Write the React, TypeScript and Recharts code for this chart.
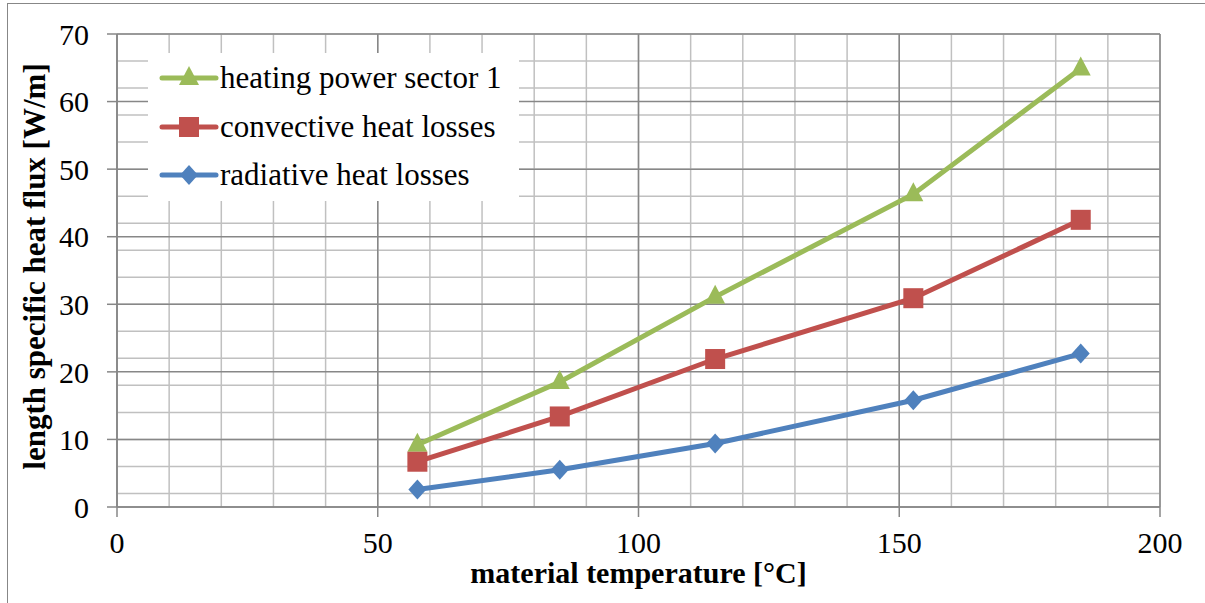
import { LineChart, Line, XAxis, YAxis, CartesianGrid, Legend, Label } from 'recharts';

const temperature = [57.6, 84.9, 114.7, 152.7, 184.8];
const heatingPower = [9.2, 18.5, 31.1, 46.3, 64.9];
const convectiveLosses = [6.7, 13.4, 21.9, 30.9, 42.5];
const radiativeLosses = [2.6, 5.5, 9.4, 15.8, 22.7];

const xTicks = [0, 50, 100, 150, 200];
const yTicks = [0, 10, 20, 30, 40, 50, 60, 70];
const xMinor = [0, 10, 20, 30, 40, 50, 60, 70, 80, 90, 100, 110, 120, 130, 140, 150, 160, 170, 180, 190, 200];
const yMinor = [0, 2, 4, 6, 8, 10, 12, 14, 16, 18, 20, 22, 24, 26, 28, 30, 32, 34, 36, 38, 40, 42, 44, 46, 48, 50, 52, 54, 56, 58, 60, 62, 64, 66, 68, 70];

const GREEN = '#9bbb59';
const RED = '#c0504d';
const BLUE = '#4f81bd';
const AXIS = '#878787';
const FONT = "'Liberation Serif', 'Times New Roman', serif";

const data = temperature.map((t, i) => ({
  t,
  heating: heatingPower[i],
  convective: convectiveLosses[i],
  radiative: radiativeLosses[i],
}));

const series = [
  { key: 'heating', name: 'heating power sector 1', color: GREEN, marker: 'triangle' },
  { key: 'convective', name: 'convective heat losses', color: RED, marker: 'square' },
  { key: 'radiative', name: 'radiative heat losses', color: BLUE, marker: 'diamond' },
];

function Marker({ type, cx, cy, color }: { type: string; cx: number; cy: number; color: string }) {
  if (type === 'triangle') {
    return <polygon points={`${cx},${cy - 12} ${cx + 10},${cy + 7} ${cx - 10},${cy + 7}`} fill={color} />;
  }
  if (type === 'square') {
    return <rect x={cx - 10} y={cy - 10} width={20} height={20} fill={color} />;
  }
  return <polygon points={`${cx},${cy - 10} ${cx + 9},${cy} ${cx},${cy + 10} ${cx - 9},${cy}`} fill={color} />;
}

function LegendBox() {
  return (
    <div style={{ background: '#fff', width: 371, height: 148, paddingTop: 1, boxSizing: 'border-box' }}>
      {series.map((s) => (
        <div key={s.key} style={{ display: 'flex', alignItems: 'center', height: 48.5 }}>
          <svg width={72} height={30} style={{ flex: 'none' }}>
            <line x1={14} y1={15} x2={68} y2={15} stroke={s.color} strokeWidth={5} strokeLinecap="round" />
            <Marker type={s.marker} cx={41} cy={15} color={s.color} />
          </svg>
          <span style={{ fontFamily: FONT, fontSize: 31, lineHeight: '34px', color: '#000', whiteSpace: 'nowrap' }}>
            {s.name}
          </span>
        </div>
      ))}
    </div>
  );
}

export default function App() {
  return (
    <div style={{ position: 'absolute', left: 0, top: 0, width: 1205, height: 603, overflow: 'hidden', background: '#fff' }}>
      <div
        style={{
          position: 'absolute',
          left: 7,
          top: 3,
          width: 1300,
          height: 700,
          borderLeft: `1.5px solid ${AXIS}`,
          borderTop: `1.5px solid ${AXIS}`,
        }}
      />
      <div style={{ position: 'absolute', left: 0, top: 0 }}>
        <LineChart width={1205} height={603} data={data} margin={{ top: 34, right: 45, bottom: 0, left: 0 }}>
          <CartesianGrid
            horizontalValues={yMinor}
            verticalValues={xMinor}
            stroke="#c0c0c0"
            strokeWidth={1.5}
            fill="none"
          />
          <CartesianGrid
            horizontalValues={yTicks}
            verticalValues={xTicks}
            stroke={AXIS}
            strokeWidth={1.5}
            fill="none"
          />
          <XAxis
            dataKey="t"
            type="number"
            domain={[0, 200]}
            ticks={xTicks}
            height={96}
            tickSize={10}
            tickMargin={15}
            stroke={AXIS}
            strokeWidth={1.5}
            tick={{ fill: '#000', fontSize: 30, fontFamily: FONT }}
          >
            <Label
              content={({ viewBox }: any) => (
                <text
                  x={viewBox.x + viewBox.width / 2}
                  y={583}
                  textAnchor="middle"
                  fontFamily={FONT}
                  fontSize={30}
                  fontWeight="bold"
                  fill="#000"
                >
                  material temperature [°C]
                </text>
              )}
            />
          </XAxis>
          <YAxis
            type="number"
            domain={[0, 70]}
            ticks={yTicks}
            width={117}
            tickSize={10}
            tickMargin={18}
            stroke={AXIS}
            strokeWidth={1.5}
            tick={{ fill: '#000', fontSize: 30, fontFamily: FONT }}
          >
            <Label
              content={({ viewBox }: any) => {
                const cx = 45;
                const cy = viewBox.y + viewBox.height / 2 - 4;
                return (
                  <text
                    x={cx}
                    y={cy}
                    transform={`rotate(-90 ${cx} ${cy})`}
                    textAnchor="middle"
                    fontFamily={FONT}
                    fontSize={31}
                    fontWeight="bold"
                    fill="#000"
                  >
                    length specific heat flux [W/m]
                  </text>
                );
              }}
            />
          </YAxis>
          <Legend
            layout="horizontal"
            verticalAlign="middle"
            align="center"
            wrapperStyle={{ position: 'absolute', left: 148, top: 53, width: 371, height: 148 }}
            content={() => <LegendBox />}
          />
          {series.map((s) => (
            <Line
              key={s.key}
              type="linear"
              dataKey={s.key}
              name={s.name}
              stroke={s.color}
              strokeWidth={5}
              isAnimationActive={false}
              dot={(p: any) => <Marker key={`${s.key}-${p.index}`} type={s.marker} cx={p.cx} cy={p.cy} color={s.color} />}
              activeDot={false}
            />
          ))}
        </LineChart>
      </div>
    </div>
  );
}
